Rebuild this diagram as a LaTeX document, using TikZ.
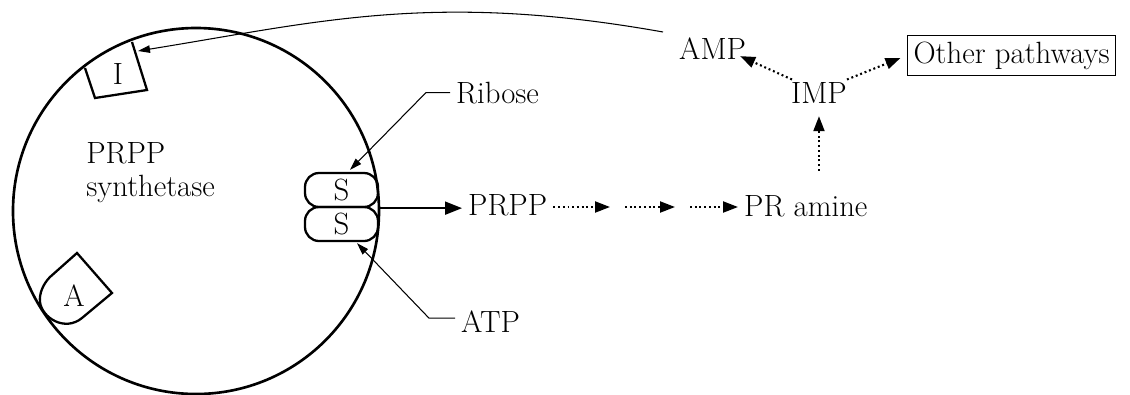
\documentclass[tikz,border=0pt]{standalone}
\usepackage{fontspec}
\usetikzlibrary{arrows.meta,positioning}

\tikzset{
  site/.style={draw,line width=1.3pt,rounded corners=2.8mm,minimum width=14.6mm,minimum height=6.8mm,inner sep=0pt},
  thinarrow/.style={-{Triangle[length=2.4mm,width=1.5mm]},line width=0.6pt},
  mainarrow/.style={-{Triangle[length=3.4mm,width=2.6mm]},line width=1.1pt},
  dotarrow/.style={-{Triangle[length=3mm,width=2.2mm]},line width=1.2pt,dash pattern=on 1.1pt off 1.6pt},
}

\begin{document}
\begin{tikzpicture}[x=0.2mm,y=-0.2mm,font=\fontsize{17.5}{19}\selectfont]
\useasboundingbox (0,0) rectangle (1130,394);

% Enzyme
\node[draw,circle,line width=1.5pt,minimum size=73.2mm,inner sep=0pt] (enz) at (196,211) {};
\node[align=left,anchor=north west,inner sep=0pt] (enzname) at (86,142) {PRPP\\synthetase};

% Allosteric sites
\draw[line width=1.3pt] (85,68) -- (95,98) -- (147,90) -- (132,42);
\node (isite) at (118,74) {I};
\draw[line width=1.3pt] (77,253) -- (112,293) -- (82,318) .. controls (65,332) and (42,318) .. (40,302) .. controls (39,294) and (43,284) .. (50,277) -- cycle;
\node (asite) at (74,296) {A};

% Substrate sites
\node[site] (sup) at (341.5,190) {S};
\node[site] (slow) at (341.5,224) {S};

% Substrates
\node[anchor=base west] (ribose) at (450,103) {Ribose};
\node[anchor=base west] (atp) at (455,332) {ATP};
\draw[thinarrow] (ribose.west) -- ++(-24,0) -- ([xshift=1.7mm,yshift=0.4mm]sup.north);
\draw[thinarrow] ([yshift=0.6mm]atp.west) -- ++(-26,0) -- ([xshift=3.1mm,yshift=-0.2mm]slow.south);

% Pathway
\node[anchor=base west] (prpp) at (462,215) {PRPP};
\node[anchor=base west] (pram) at (738,216) {PR amine};
\coordinate (st1) at (617,207);
\coordinate (st2) at (682,207);
\draw[mainarrow] (sup.south east) -- (sup.south east -| prpp.west);
\draw[dotarrow] (prpp.east |- st1) -- ([xshift=-1.4mm]st1);
\draw[dotarrow] ([xshift=1.6mm]st1) -- ([xshift=-1.4mm]st2);
\draw[dotarrow] ([xshift=1.6mm]st2) -- (pram.west |- st2);

% Products
\node[anchor=base west] (imp) at (785,103) {IMP};
\node[anchor=base west] (amp) at (673,59) {AMP};
\node[draw,line width=0.6pt,inner sep=1.2mm,anchor=base west] (other) at (907,63) {Other pathways};
\draw[dotarrow,shorten <=3.6mm,shorten >=1.4mm] (imp.south |- pram.north) -- (imp.south);
\draw[dotarrow] ([xshift=1.4mm,yshift=2.6mm]imp.west) -- ([xshift=-2.4mm,yshift=-1.6mm]amp.east);
\draw[dotarrow,shorten >=1.4mm] ([xshift=-1.2mm,yshift=2.6mm]imp.east) -- (other.west);

% Feedback inhibition
\coordinate (fb) at (663,32);
\coordinate (ibind) at (138,51);
\draw[thinarrow] (fb) .. controls (433,-9) and (318,22) .. (ibind);

\end{tikzpicture}
\end{document}
